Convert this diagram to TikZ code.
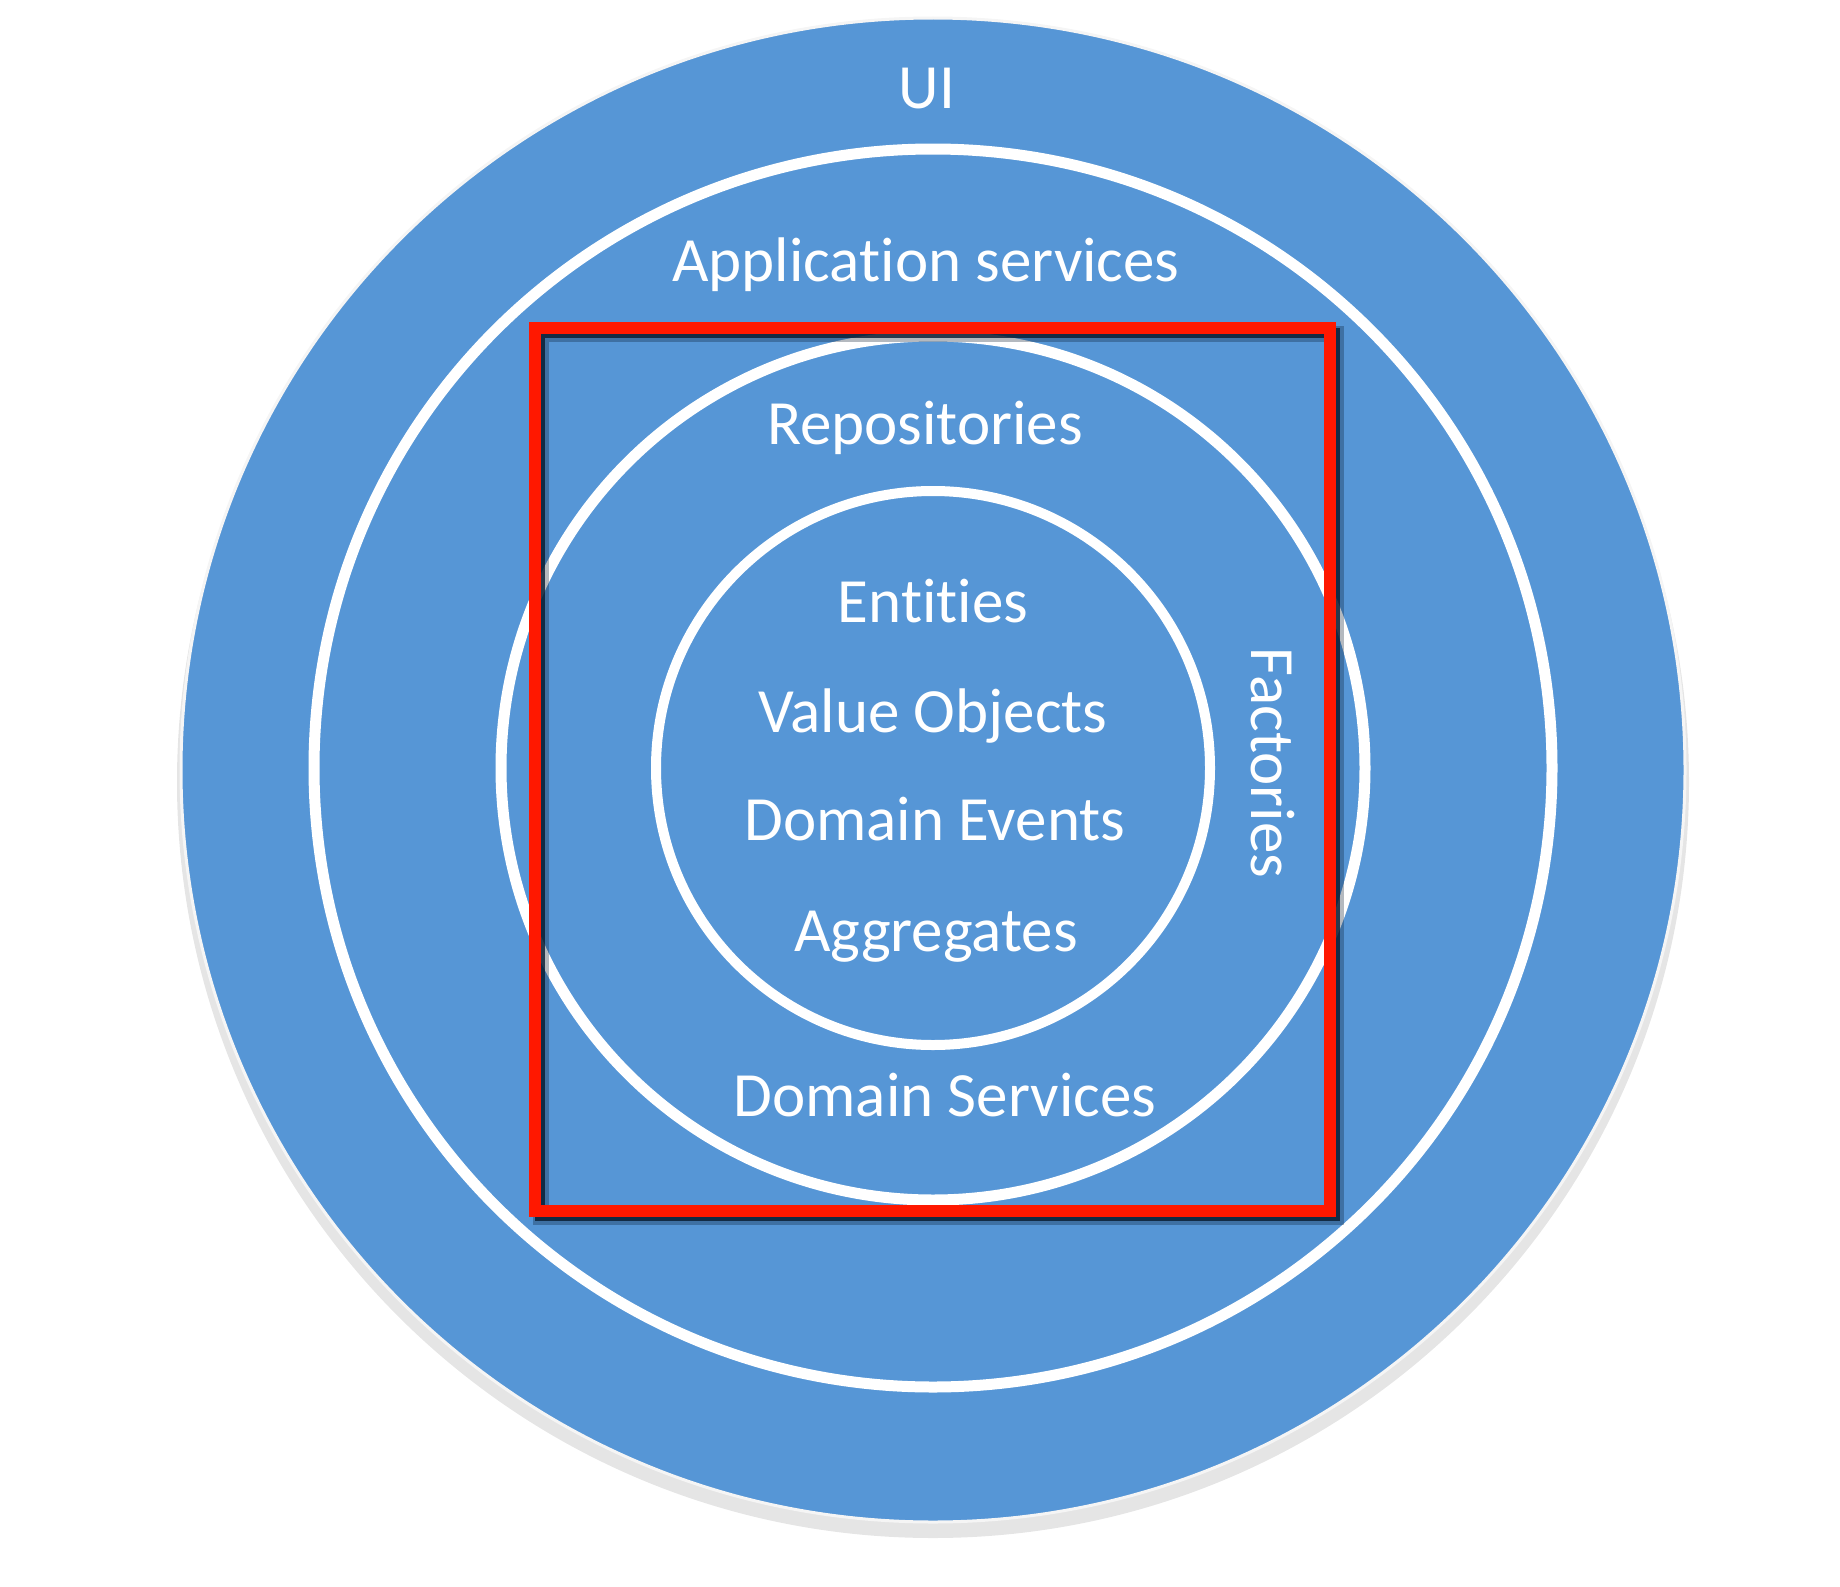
\documentclass[tikz,border=0pt]{standalone}
\usepackage{fontspec}
\setmainfont{Carlito}[Ligatures=CommonOff]
\definecolor{ringblue}{RGB}{86,150,214}
\definecolor{framered}{RGB}{255,24,0}
\definecolor{shadenavy}{RGB}{8,26,46}

\begin{document}
\begin{tikzpicture}[x=1pt,y=-1pt,
    lbl/.style={text=white,font=\fontsize{63}{76}\selectfont,inner sep=0pt,anchor=base},
    ring/.style={white,line width=11pt}]
      \useasboundingbox (0,0) rectangle (1840,1587);
      \fill[black!10] (933,782) circle[radius=756pt];
      \fill[ringblue,draw=white!92!gray,line width=3pt] (933,770) circle[radius=752pt];
      \draw[ring] (933,768) circle[radius=619pt];
      \draw[ring] (933,768) circle[radius=432pt];
      \draw[ring,line width=10pt] (933,768) circle[radius=277pt];
      \draw[shadenavy,opacity=0.3,line width=16pt] (541,334) rectangle (1336,1217);
      \draw[shadenavy,opacity=0.8,line width=10pt] (540,333) rectangle (1335,1216);
      \draw[framered,line width=12pt] (535,328) rectangle (1330,1211);
      \draw
        (927,108) node[lbl] (ui){UI}
        (926,281) node[lbl] (app){Application services}
        (925,444) node[lbl] (repo){Repositories}
        (933,622) node[lbl] (ent){Entities}
        (933,732) node[lbl] (vo){Value Objects}
        (935,840) node[lbl] (ev){Domain Events}
        (936,951) node[lbl] (agg){Aggregates}
        (945,1116) node[lbl] (dsv){Domain Services}
        (1251,763) node[lbl,rotate=-90] (fac){Factories};
    \end{tikzpicture}
\end{document}
